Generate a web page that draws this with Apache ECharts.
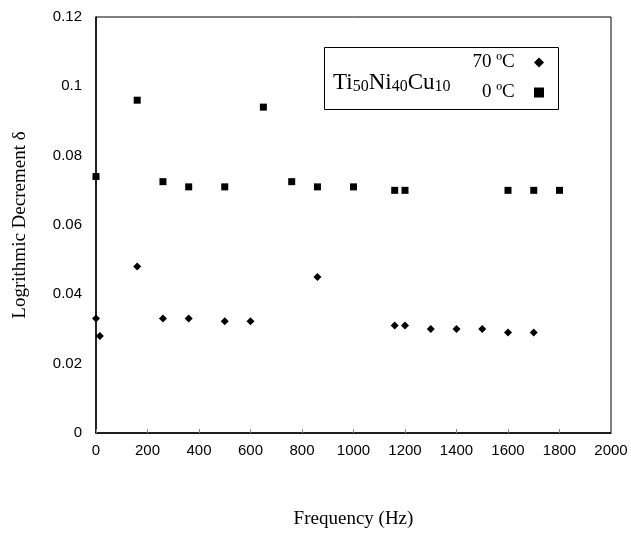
<!DOCTYPE html>
<html>
<head>
<meta charset="utf-8">
<script src="https://cdn.jsdelivr.net/npm/echarts@6/dist/echarts.min.js"></script>
<style>
  html, body { margin: 0; padding: 0; background: #fff; }
  #chart { width: 631px; height: 534px; }
</style>
</head>
<body>
<div id="chart"></div>
<script>
// 读图得到的数据：频率 (Hz) 与对数衰减率 δ
const freq70 = [0, 15, 160, 260, 360, 500, 600, 860, 1160, 1200, 1300, 1400, 1500, 1600, 1700];
const delta70 = [0.033, 0.028, 0.048, 0.033, 0.033, 0.0322, 0.0322, 0.045, 0.031, 0.031, 0.030, 0.030, 0.030, 0.029, 0.029];
const freq0 = [0, 160, 260, 360, 500, 650, 760, 860, 1000, 1160, 1200, 1600, 1700, 1800];
const delta0 = [0.074, 0.096, 0.0725, 0.071, 0.071, 0.094, 0.0725, 0.071, 0.071, 0.070, 0.070, 0.070, 0.070, 0.070];
const seriesNames = ["70 ºC", "0 ºC"];

(function () {
  "use strict";
  const chart = echarts.init(document.getElementById("chart"));
  const serif = "Liberation Serif";
  const sans = "Liberation Sans";
  const zip = (xs, ys) => xs.map((x, i) => [x, ys[i]]);

  chart.setOption({
    animation: false,
    backgroundColor: "#fff",
    grid: { left: 96, right: 20, top: 17, bottom: 99, show: true, borderColor: "#000", borderWidth: 1 },
    xAxis: {
      type: "value", min: 0, max: 2000, interval: 200,
      name: "Frequency (Hz)", nameLocation: "middle", nameGap: 77,
      nameTextStyle: { fontFamily: serif, fontSize: 19, color: "#000" },
      axisLine: { lineStyle: { color: "#000", width: 1.5 } },
      axisTick: { inside: true, length: 4, lineStyle: { color: "#888" } },
      axisLabel: { fontFamily: sans, fontSize: 15, color: "#000", margin: 10, formatter: v => String(v) },
      splitLine: { show: false },
    },
    yAxis: {
      type: "value", min: 0, max: 0.12, interval: 0.02,
      name: "Logrithmic Decrement δ", nameLocation: "middle", nameGap: 66,
      nameTextStyle: { fontFamily: serif, fontSize: 19, color: "#000" },
      axisLine: { show: true, lineStyle: { color: "#000", width: 1.5 } },
      axisTick: { show: false },
      axisLabel: { fontFamily: sans, fontSize: 15, color: "#000", margin: 14 },
      splitLine: { show: false },
    },
    legend: {
      orient: "vertical", right: 82, top: 48, align: "right",
      itemWidth: 10, itemHeight: 10, itemGap: 11, selectedMode: false,
      formatter: n => n + "   ",
      textStyle: { fontFamily: serif, fontSize: 19, color: "#000" },
      data: seriesNames,
    },
    graphic: [
      { type: "rect", left: 322, top: 45, shape: { width: 234, height: 62 },
        style: { fill: "none", stroke: "#000", lineWidth: 1 }, z: 10 },
      { type: "text", left: 333, top: 71, z: 10,
        style: {
          text: "Ti{s|50}Ni{s|40}Cu{s|10}",
          font: "23px " + serif, fill: "#000",
          rich: { s: { fontFamily: serif, fontSize: 16, fill: "#000", padding: [9, 0, 0, 0] } },
        } },
    ],
    series: [
      { name: seriesNames[0], type: "scatter", symbol: "diamond", symbolSize: 8,
        itemStyle: { color: "#000", opacity: 1 }, data: zip(freq70, delta70) },
      { name: seriesNames[1], type: "scatter", symbol: "rect", symbolSize: 7,
        itemStyle: { color: "#000", opacity: 1 }, data: zip(freq0, delta0) },
    ],
  });

  window.addEventListener("resize", () => chart.resize());
})();
</script>
</body>
</html>
